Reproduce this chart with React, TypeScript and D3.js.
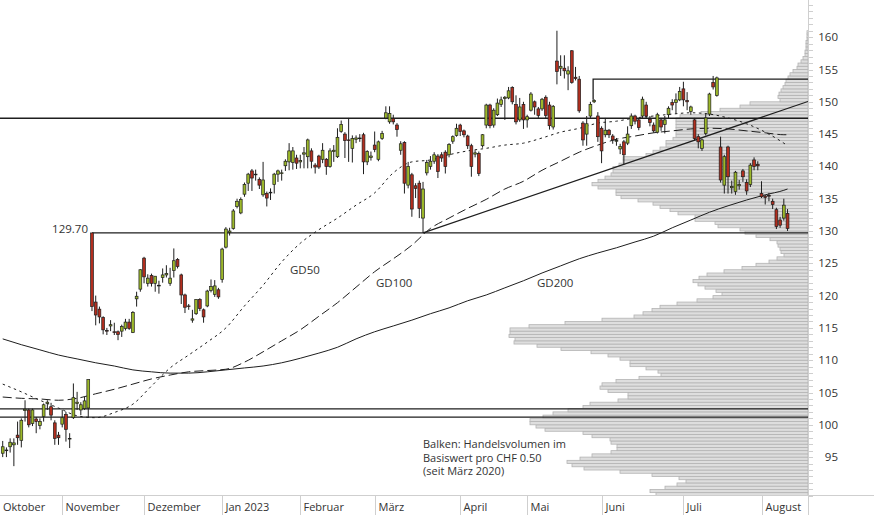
import React from "react";
import * as d3 from "d3";

// ---------- data ----------
// daily candles [open, high, low, close], trading days from 10 Oct 2022 to 11 Aug 2023
const candles: [number, number, number, number][] = [
  [95.6, 97.5, 95.0, 96.6], [96.0, 96.5, 95.0, 96.1], [96.6, 97.9, 95.7, 97.3], [96.9, 97.9, 93.6, 97.2],
  [98.4, 100.5, 96.9, 98.0], [97.6, 101.0, 96.5, 100.7], [102.2, 103.8, 100.5, 102.4], [102.3, 102.5, 99.6, 100.0],
  [100.2, 102.5, 99.8, 102.3], [100.9, 101.2, 98.7, 100.5], [99.9, 101.0, 99.3, 100.5], [101.3, 103.3, 100.5, 103.1],
  [103.3, 103.8, 102.3, 103.5], [102.8, 103.4, 100.7, 101.5], [100.3, 100.7, 96.9, 97.9], [98.4, 98.9, 96.9, 98.0],
  [100.1, 102.3, 99.6, 101.1], [101.6, 102.0, 97.4, 99.3], [97.8, 98.7, 96.4, 97.9], [101.1, 106.4, 100.9, 104.2],
  [103.3, 105.1, 102.3, 103.5], [102.3, 103.5, 101.5, 103.1], [102.5, 104.3, 102.3, 103.7], [102.6, 107.0, 101.1, 107.0],
  [129.7, 129.7, 117.6, 118.3], [119.0, 120.0, 115.4, 117.0], [117.9, 118.3, 115.7, 116.7], [116.6, 116.8, 114.0, 114.7],
  [114.6, 115.0, 113.9, 114.5], [115.3, 116.2, 114.5, 115.5], [114.4, 115.8, 113.9, 114.3], [114.4, 114.6, 113.1, 114.0],
  [114.5, 115.5, 113.6, 115.2], [114.9, 116.4, 114.6, 115.9], [115.9, 116.4, 114.7, 114.9], [114.3, 117.6, 114.2, 117.4],
  [119.5, 120.6, 118.3, 119.9], [121.0, 124.1, 120.6, 124.0], [125.8, 126.0, 121.9, 122.9], [121.9, 123.3, 121.4, 122.7],
  [123.1, 123.4, 121.4, 121.9], [121.9, 123.0, 120.6, 123.0], [121.5, 122.3, 120.3, 121.6], [122.8, 124.2, 122.0, 123.2],
  [123.2, 124.7, 122.8, 123.4], [121.9, 124.3, 121.5, 122.7], [123.9, 127.3, 122.8, 125.4], [125.6, 125.8, 124.2, 124.5],
  [123.2, 123.4, 118.7, 120.1], [120.1, 120.3, 117.3, 118.2], [118.4, 118.7, 117.8, 118.3], [116.2, 117.8, 115.8, 116.4],
  [117.2, 119.4, 117.0, 119.4], [119.4, 119.6, 117.6, 118.0], [117.8, 118.0, 115.8, 116.7], [118.4, 120.9, 118.2, 120.7],
  [120.8, 122.5, 120.5, 121.4], [120.2, 122.4, 119.8, 121.5], [120.9, 121.2, 119.5, 119.8], [122.5, 127.4, 122.0, 127.2],
  [127.5, 130.6, 127.3, 130.3], [129.8, 130.5, 129.3, 130.0], [130.4, 133.4, 130.2, 133.1], [133.8, 135.0, 133.5, 134.6],
  [132.8, 135.2, 132.6, 134.9], [135.7, 137.5, 135.3, 137.2], [137.4, 139.0, 136.2, 138.8], [139.3, 139.6, 136.2, 138.2],
  [138.7, 139.5, 137.8, 138.8], [138.0, 138.3, 136.5, 137.1], [135.6, 140.7, 135.3, 137.9], [135.8, 136.1, 133.8, 135.1],
  [135.9, 136.6, 134.8, 136.0], [137.2, 139.0, 135.8, 138.8], [138.8, 139.5, 137.6, 139.3], [138.9, 139.5, 137.8, 139.0],
  [140.1, 141.1, 139.3, 140.8], [140.7, 143.6, 139.4, 142.4], [140.6, 143.0, 139.5, 142.4], [141.3, 141.8, 139.6, 140.5],
  [140.7, 141.8, 139.7, 140.9], [141.9, 143.0, 139.7, 142.1], [141.5, 144.3, 139.7, 144.1], [142.4, 142.8, 139.7, 140.8],
  [140.2, 140.5, 138.9, 139.9], [141.6, 141.8, 139.6, 139.9], [141.1, 143.6, 140.5, 142.5], [141.1, 141.3, 138.7, 140.0],
  [140.0, 142.8, 139.8, 142.4], [142.3, 143.3, 140.7, 142.5], [141.5, 145.9, 141.3, 144.5], [145.4, 147.1, 145.2, 146.5],
  [145.0, 145.3, 141.3, 144.0], [144.1, 147.5, 140.7, 144.0], [142.8, 144.8, 140.6, 144.3], [144.2, 144.8, 143.6, 144.4],
  [144.4, 145.0, 143.8, 144.3], [144.9, 145.2, 138.8, 140.7], [140.7, 142.5, 140.2, 142.3], [141.4, 142.3, 140.9, 141.6],
  [143.3, 145.4, 142.2, 142.6], [141.1, 144.0, 140.8, 143.8], [144.3, 145.5, 144.1, 145.1], [147.5, 149.3, 147.3, 148.3],
  [146.9, 149.3, 146.6, 148.2], [147.4, 148.0, 146.5, 146.9], [146.4, 146.7, 144.6, 145.7], [142.5, 143.9, 141.8, 143.5],
  [143.7, 143.9, 135.8, 137.4], [137.1, 140.7, 136.6, 140.0], [138.7, 139.0, 132.2, 133.4], [137.0, 137.4, 135.1, 136.6],
  [137.4, 137.8, 132.0, 133.5], [132.0, 137.6, 129.7, 136.5], [139.0, 141.0, 138.6, 140.6], [140.0, 141.6, 139.5, 140.8],
  [140.8, 142.2, 140.4, 141.8], [141.6, 141.9, 138.2, 139.2], [141.8, 142.2, 140.7, 141.3], [142.2, 142.5, 138.9, 140.0],
  [141.8, 143.6, 141.4, 143.4], [143.9, 144.8, 143.5, 144.6], [144.8, 146.6, 144.6, 145.9], [146.4, 146.6, 144.7, 145.4],
  [145.5, 145.7, 144.5, 144.9], [144.7, 144.9, 142.7, 143.2], [143.2, 143.5, 138.4, 140.0], [141.9, 142.5, 141.4, 142.1],
  [142.0, 142.3, 138.5, 138.9], [143.2, 145.0, 142.9, 144.9], [146.4, 149.7, 145.9, 149.5], [149.5, 149.7, 145.9, 146.3],
  [146.4, 149.0, 146.0, 148.7], [148.0, 150.5, 147.8, 149.8], [149.6, 150.8, 149.2, 150.3], [150.5, 150.9, 147.2, 150.7],
  [150.6, 152.3, 150.4, 151.7], [152.2, 152.4, 149.6, 150.0], [149.6, 151.0, 146.5, 146.9], [147.2, 150.6, 146.9, 149.2],
  [149.6, 150.0, 145.8, 147.2], [147.2, 148.0, 146.0, 147.7], [148.7, 151.5, 148.5, 151.2], [150.0, 150.2, 148.0, 149.2],
  [148.9, 149.2, 147.5, 147.9], [148.9, 150.6, 148.6, 150.4], [150.7, 151.0, 147.4, 147.9], [149.5, 150.0, 145.7, 146.3],
  [146.1, 149.5, 145.7, 149.3], [156.3, 161.0, 152.7, 154.7], [155.2, 157.2, 154.0, 155.5], [155.2, 157.2, 153.6, 154.8],
  [154.3, 155.5, 151.8, 154.8], [157.9, 158.0, 152.8, 153.0], [153.8, 155.4, 153.3, 153.6], [153.5, 154.0, 148.3, 148.6],
  [146.7, 147.0, 143.2, 144.1], [145.0, 147.8, 143.2, 146.6], [147.8, 150.0, 147.5, 149.6], [150.0, 150.4, 149.8, 150.2],
  [147.8, 148.4, 143.8, 144.6], [145.9, 146.2, 140.5, 142.4], [144.9, 147.5, 144.5, 145.6], [145.6, 145.8, 144.4, 144.9],
  [144.7, 145.0, 143.5, 144.1], [143.9, 144.4, 143.2, 144.0], [142.7, 143.5, 141.9, 143.1], [143.8, 144.1, 140.3, 141.8],
  [143.6, 146.2, 143.3, 145.0], [146.3, 148.2, 145.8, 147.8], [147.8, 148.0, 146.5, 147.0], [147.2, 147.5, 145.6, 146.0],
  [147.8, 150.8, 147.5, 150.4], [149.5, 150.0, 147.4, 147.8], [147.3, 147.8, 146.2, 146.8], [146.4, 146.8, 145.2, 145.5],
  [145.3, 148.3, 145.1, 148.0], [147.2, 147.5, 145.5, 146.1], [146.5, 147.8, 145.1, 147.2], [148.0, 149.3, 147.5, 149.0],
  [149.9, 150.4, 148.7, 149.5], [149.9, 151.3, 148.2, 150.3], [150.3, 152.3, 150.1, 151.6], [152.0, 153.1, 149.3, 150.3],
  [150.2, 151.5, 148.7, 150.0], [148.5, 149.4, 148.0, 149.2], [147.2, 147.5, 144.0, 144.3], [144.6, 145.0, 142.8, 143.8],
  [142.8, 144.3, 142.4, 144.1], [145.1, 148.1, 144.8, 147.5], [148.1, 151.4, 147.8, 151.2], [153.0, 154.0, 151.9, 152.3],
  [151.0, 153.9, 150.8, 153.7], [143.0, 144.6, 137.5, 137.9], [137.1, 141.8, 135.8, 141.5], [143.0, 143.2, 135.8, 138.4],
  [136.7, 137.8, 135.8, 136.9], [136.1, 139.3, 135.6, 139.1], [137.0, 137.9, 136.4, 137.2], [139.3, 139.6, 137.6, 138.4],
  [137.5, 138.0, 135.6, 136.2], [137.2, 140.5, 136.8, 140.2], [141.0, 141.4, 139.4, 140.0], [140.3, 140.8, 139.4, 140.1],
  [135.8, 137.7, 135.1, 135.3], [135.4, 135.6, 134.1, 135.2], [135.5, 135.9, 134.6, 135.4], [134.6, 135.0, 133.4, 134.1],
  [133.3, 133.6, 130.3, 130.7], [131.7, 132.2, 130.5, 130.9], [132.0, 135.0, 131.6, 134.0], [132.7, 133.4, 130.0, 130.4],
];

// month tick labels and the trading-day index of each month's first session
const monthNames = ["Oktober", "November", "Dezember", "Jan 2023", "Februar", "März", "April", "Mai", "Juni", "Juli", "August"];
const monthStartIdx = [-5, 16, 38, 59, 80, 100, 123, 141, 161, 183, 204];

const priceTicks = [95, 100, 105, 110, 115, 120, 125, 130, 135, 140, 145, 150, 155, 160];

// moving averages, read at these trading-day indices
const maIdx = [0, 5, 10, 15, 20, 25, 30, 35, 40, 45, 50, 55, 60, 65, 70, 75, 80, 85, 90, 95, 100, 105, 110,
  115, 120, 125, 130, 135, 140, 145, 150, 155, 160, 165, 170, 175, 180, 185, 190, 195, 200, 205, 210, 211];
const gd50 = [106.3, 105.1, 103.8, 102.6, 101.4, 101.1, 101.9, 103.2, 106.0, 108.8, 110.8, 112.8, 115.0, 118.4,
  121.6, 125.2, 128.1, 130.2, 132.0, 134.0, 135.9, 139.0, 140.7, 141.0, 141.8, 142.4, 142.8, 143.3, 143.6, 144.4,
  145.3, 145.9, 146.7, 147.0, 147.5, 147.8, 148.1, 148.3, 148.1, 147.5, 146.6, 145.3, 143.6, 143.2];
const gd100 = [104.3, 104.1, 104.0, 103.8, 104.1, 104.8, 105.5, 106.3, 107.1, 107.7, 108.2, 108.4, 108.6, 109.7,
  111.3, 113.0, 114.7, 116.8, 118.9, 121.3, 123.7, 125.7, 127.8, 130.4, 132.0, 133.5, 134.9, 136.5, 137.7, 139.4,
  140.8, 142.2, 143.3, 144.2, 144.7, 145.2, 145.5, 145.8, 145.9, 145.8, 145.5, 145.2, 144.9, 144.9];
const gd200 = [113.3, 112.4, 111.6, 110.8, 110.2, 109.6, 109.1, 108.5, 108.2, 108.0, 108.0, 108.2, 108.5, 108.8,
  109.1, 109.6, 110.3, 111.1, 112.0, 113.3, 114.4, 115.3, 116.2, 117.2, 118.1, 119.2, 120.1, 121.2, 122.3, 123.5,
  124.6, 125.7, 126.6, 127.4, 128.3, 129.2, 130.5, 131.7, 132.9, 133.9, 134.8, 135.6, 136.3, 136.5];

// volume profile: traded volume per CHF 0.50 price bin, starting at the bin 89.00–89.50
const profileLow = 89;
const profileStep = 0.5;
const profileVol = [
  152, 158, 143, 131, 122, 129, 156, 188, 224, 236,
  241, 228, 216, 197, 191, 191, 197, 198, 216, 225,
  263, 272, 278, 278, 265, 255, 240, 225, 218, 190,
  180, 180, 200, 208, 206, 192, 169, 147, 150, 162,
  178, 178, 188, 200, 217, 247, 271, 294, 293, 299,
  298, 298, 279, 243, 206, 174, 165, 156, 148, 131,
  111, 95, 86, 92, 103, 110, 115, 109, 101, 84,
  66, 52, 39, 31, 24, 27, 28,
  30, 31, 38, 52, 63, 68, 90, 93, 113, 113,
  130, 138, 148, 155, 170, 187, 192, 192, 210, 216,
  210, 203, 197, 195, 195, 189, 185, 185, 162, 155,
  148, 142, 142, 135, 132, 132, 132, 132, 132, 132,
  128, 107, 88, 68, 58, 28, 30, 29, 27, 25,
  23, 22, 20, 18, 15, 11, 10, 7, 5, 3,
  3, 2, 2, 2, 1, 1, 1,
];

// horizontal support / resistance levels
const fullLevels = [147.45, 102.45, 101.2];
const markIdx = 24;
const markPrice = 129.7;
const resistIdx = 159;
const resistPrice = 153.5;
const resistFoot = 150.3;
const trendStartIdx = 113;
const trendStartPrice = 129.7;
const trendEndIdx = 216.5;
const trendEndPrice = 150.05;

// ---------- chart ----------
const W = 874;
const H = 515;
const PR = 808; // plot right
const PB = 495; // plot bottom
const FONT = "'Open Sans', 'Noto Sans', sans-serif";
const GREEN = "#9cb82a";
const RED = "#b22e1e";
const INK = "#1e1e1e";
const TXT = "#333";

export default function App() {
  const x = d3.scaleLinear().domain([-0.73, 216.5]).range([0, PR]);
  const y = d3.scaleLinear().domain([130, 160]).range([231, 37.2]);
  const vx = d3.scaleLinear().domain([0, 300]).range([0, 300]);

  const maLine = (vals: number[]) =>
    d3.line<number>().x((_, k) => x(maIdx[k])).y((v) => y(v)).curve(d3.curveMonotoneX)(vals) || "";

  const minorTicks = d3.range(89, 166, 1);

  return (
    <svg width={W} height={H} style={{ position: "absolute", left: 0, top: 0, background: "#fff" }} fontFamily={FONT}>
      <defs>
        <clipPath id="plot">
          <rect x={0} y={0} width={PR} height={PB} />
        </clipPath>
      </defs>

      <g clipPath="url(#plot)">
        {/* volume profile */}
        {profileVol.map((v, k) => {
          const lo = profileLow + k * profileStep;
          const y0 = y(lo + profileStep);
          const y1 = y(lo);
          const len = vx(v);
          return (
            <rect key={"vp" + k} x={PR - len} y={y0} width={len} height={y1 - y0}
              fill="#dedede" stroke="#b3b3b3" strokeWidth={0.8} />
          );
        })}

        {/* horizontal levels */}
        {fullLevels.map((p, k) => (
          <line key={"fl" + k} x1={0} x2={PR} y1={y(p)} y2={y(p)} stroke={INK} strokeWidth={1.3} />
        ))}
        <path d={`M${x(markIdx)},${y(markPrice)}H${PR}`} fill="none" stroke={INK} strokeWidth={1.3} />
        <path d={`M${x(resistIdx) - 1},${y(resistFoot)}V${y(resistPrice)}H${PR}`} fill="none" stroke={INK} strokeWidth={1.3} />

        {/* moving averages */}
        <path d={maLine(gd200)} fill="none" stroke={INK} strokeWidth={1} />
        <path d={maLine(gd100)} fill="none" stroke={INK} strokeWidth={1} strokeDasharray="9,4" />
        <path d={maLine(gd50)} fill="none" stroke={INK} strokeWidth={1} strokeDasharray="2.5,3.5" />

        {/* trend line */}
        <line x1={x(trendStartIdx)} y1={y(trendStartPrice)} x2={x(trendEndIdx)} y2={y(trendEndPrice)}
          stroke={INK} strokeWidth={1.2} />

        {/* candles */}
        {candles.map(([o, h, l, c], i) => {
          const cx = x(i);
          const up = c >= o;
          const top = y(Math.max(o, c));
          const bot = y(Math.min(o, c));
          return (
            <g key={"c" + i}>
              <line x1={cx} x2={cx} y1={y(h)} y2={y(l)} stroke={INK} strokeWidth={1} />
              <rect x={cx - 1.4} y={top} width={2.8} height={Math.max(bot - top, 0.7)}
                fill={up ? GREEN : RED} stroke={INK} strokeWidth={0.7} />
            </g>
          );
        })}
      </g>

      {/* labels inside the plot */}
      <text x={x(markIdx) - 4} y={y(markPrice) + 0.5} textAnchor="end" fontSize={11.5} fill={TXT}>129.70</text>
      <text x={290} y={274} fontSize={11.5} fill={TXT}>GD50</text>
      <text x={376} y={287} fontSize={11.5} fill={TXT}>GD100</text>
      <text x={537} y={287} fontSize={11.5} fill={TXT}>GD200</text>
      <text x={423} y={448} fontSize={11} fill={TXT}>Balken: Handelsvolumen im</text>
      <text x={423} y={461.5} fontSize={11} fill={TXT}>Basiswert pro CHF 0.50</text>
      <text x={423} y={475} fontSize={11} fill={TXT}>(seit März 2020)</text>

      {/* x axis */}
      <line x1={0} x2={W} y1={PB + 0.5} y2={PB + 0.5} stroke="#cfcfcf" strokeWidth={1} />
      {monthNames.map((m, k) => {
        const tx = x(monthStartIdx[k]);
        const visible = tx >= 0;
        const px = visible ? Math.round(tx) + 0.5 : 0;
        return (
          <g key={"m" + k}>
            {visible && <line x1={px} x2={px} y1={PB} y2={H} stroke="#cfcfcf" strokeWidth={1} />}
            <text x={px + 3} y={511} fontSize={11} fill={TXT}>{m}</text>
          </g>
        );
      })}

      {/* y axis */}
      <line x1={PR + 0.5} x2={PR + 0.5} y1={0} y2={H} stroke="#cfcfcf" strokeWidth={1} />
      {minorTicks.map((t) => (
        <line key={"mt" + t} x1={PR} x2={PR + 5} y1={Math.round(y(t)) + 0.5} y2={Math.round(y(t)) + 0.5}
          stroke="#cfcfcf" strokeWidth={1} />
      ))}
      {priceTicks.map((t) => (
        <text key={"pt" + t} x={838} y={y(t) + 4} textAnchor="end" fontSize={11.5} fill={TXT}>{t}</text>
      ))}
    </svg>
  );
}
